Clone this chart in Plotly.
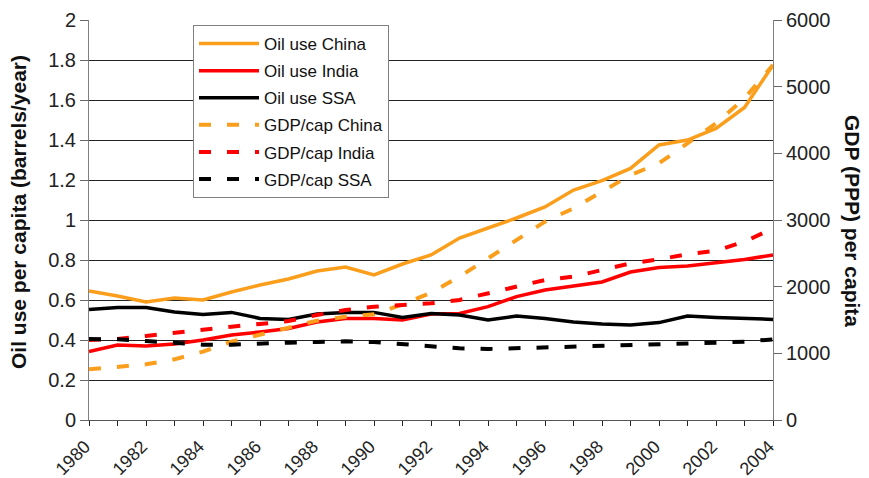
import plotly.graph_objects as go

years = list(range(1980, 2005))

oil_china = [0.645, 0.62, 0.59, 0.61, 0.60, 0.64, 0.675, 0.705, 0.745, 0.765, 0.725, 0.78, 0.825,
             0.91, 0.96, 1.01, 1.065, 1.15, 1.197, 1.258, 1.375, 1.40, 1.458, 1.563, 1.775]
oil_india = [0.342, 0.375, 0.37, 0.38, 0.40, 0.425, 0.44, 0.458, 0.49, 0.508, 0.508, 0.50, 0.53,
             0.533, 0.567, 0.617, 0.65, 0.67, 0.69, 0.74, 0.763, 0.77, 0.787, 0.803, 0.825]
oil_ssa = [0.553, 0.563, 0.563, 0.54, 0.528, 0.538, 0.508, 0.503, 0.53, 0.538, 0.538, 0.513, 0.532,
           0.525, 0.50, 0.52, 0.508, 0.49, 0.48, 0.475, 0.487, 0.52, 0.513, 0.508, 0.503]
gdp_china = [760, 790, 835, 910, 1025, 1175, 1275, 1375, 1490, 1550, 1585, 1735, 1910,
             2150, 2425, 2700, 2975, 3175, 3425, 3675, 3850, 4150, 4450, 4825, 5325]
gdp_india = [1200, 1215, 1260, 1310, 1350, 1400, 1440, 1485, 1575, 1650, 1700, 1725, 1750,
             1800, 1900, 2010, 2100, 2150, 2250, 2350, 2410, 2485, 2540, 2675, 2875]
gdp_ssa = [1215, 1210, 1185, 1160, 1130, 1130, 1150, 1160, 1170, 1180, 1170, 1135, 1105,
           1075, 1065, 1075, 1090, 1100, 1110, 1125, 1140, 1150, 1160, 1175, 1210]

left_ticks = [0, 0.2, 0.4, 0.6, 0.8, 1, 1.2, 1.4, 1.6, 1.8, 2]
left_labels = ["0", "0.2", "0.4", "0.6", "0.8", "1", "1.2", "1.4", "1.6", "1.8", "2"]
right_ticks = [0, 1000, 2000, 3000, 4000, 5000, 6000]
right_labels = ["0", "1000", "2000", "3000", "4000", "5000", "6000"]
x_labels = [str(y) if y % 2 == 0 else "" for y in years]

ORANGE = "#FA9E1C"
RED = "#FF0000"
BLACK = "#000000"
FONT = "Liberation Sans, Arial, sans-serif"

fig = go.Figure()
series = [
    ("Oil use China", oil_china, ORANGE, "solid", "y"),
    ("Oil use India", oil_india, RED, "solid", "y"),
    ("Oil use SSA", oil_ssa, BLACK, "solid", "y"),
    ("GDP/cap China", gdp_china, ORANGE, "12px,16px", "y2"),
    ("GDP/cap India", gdp_india, RED, "12px,16px", "y2"),
    ("GDP/cap SSA", gdp_ssa, BLACK, "12px,16px", "y2"),
]
for name, vals, col, dash, ax in series:
    fig.add_trace(go.Scatter(
        x=years, y=vals, name=name, mode="lines", yaxis=ax, legendgroup=name,
        line=dict(color=col, width=3.5 if dash == "solid" else 4, dash=dash),
    ))

# page body has an 8px margin: figure is 861x470 placed at (8, 8)
fig.update_layout(
    width=861, height=470,
    margin=dict(l=81, r=96, t=12, b=58, autoexpand=False),
    paper_bgcolor="white", plot_bgcolor="white",
    font=dict(family=FONT, color="#222", size=18),
    showlegend=True,
    legend=dict(
        x=(193 - 89) / 684, y=(420 - 25) / 400, xanchor="left", yanchor="top",
        bgcolor="white", bordercolor="#808080", borderwidth=1,
        font=dict(size=17, color="#111"), tracegroupgap=2, itemwidth=60,
    ),
    xaxis=dict(
        range=[1980, 2004], tickvals=years, ticktext=x_labels, tickangle=-45,
        ticks="outside", ticklen=5, tickcolor="#222", showline=True, linecolor="#555",
        linewidth=1, showgrid=False, zeroline=False, tickfont=dict(size=18, color="#222"),
        automargin=False, ticklabelstandoff=3, ticklabelshift=-4,
    ),
    yaxis=dict(
        range=[0, 2], tickvals=left_ticks, ticktext=left_labels, ticks="outside",
        ticklen=8, tickcolor="#666", showline=True, linecolor="#808080", linewidth=1,
        showgrid=True, gridcolor="#222", gridwidth=1, zeroline=False,
        tickfont=dict(size=20, color="#222"), automargin=False,
    ),
    yaxis2=dict(
        range=[0, 6000], tickvals=right_ticks, ticktext=right_labels, overlaying="y",
        side="right", ticks="outside", ticklen=8, tickcolor="#666", showline=True,
        linecolor="#808080", linewidth=1, showgrid=False, zeroline=False,
        tickfont=dict(size=20, color="#222"), automargin=False,
    ),
    annotations=[
        dict(text="<b>Oil use per capita (barrels/year)</b>", textangle=-90,
             xref="paper", yref="paper", x=(18 - 89) / 684, y=(420 - 212) / 400,
             showarrow=False, font=dict(size=21, color="#111"), xanchor="center", yanchor="middle"),
        dict(text="<b>GDP (PPP) per capita</b>", textangle=90,
             xref="paper", yref="paper", x=(852 - 89) / 684, y=(420 - 221) / 400,
             showarrow=False, font=dict(size=21, color="#111"), xanchor="center", yanchor="middle"),
    ],
)

fig.write_html("out.html")
